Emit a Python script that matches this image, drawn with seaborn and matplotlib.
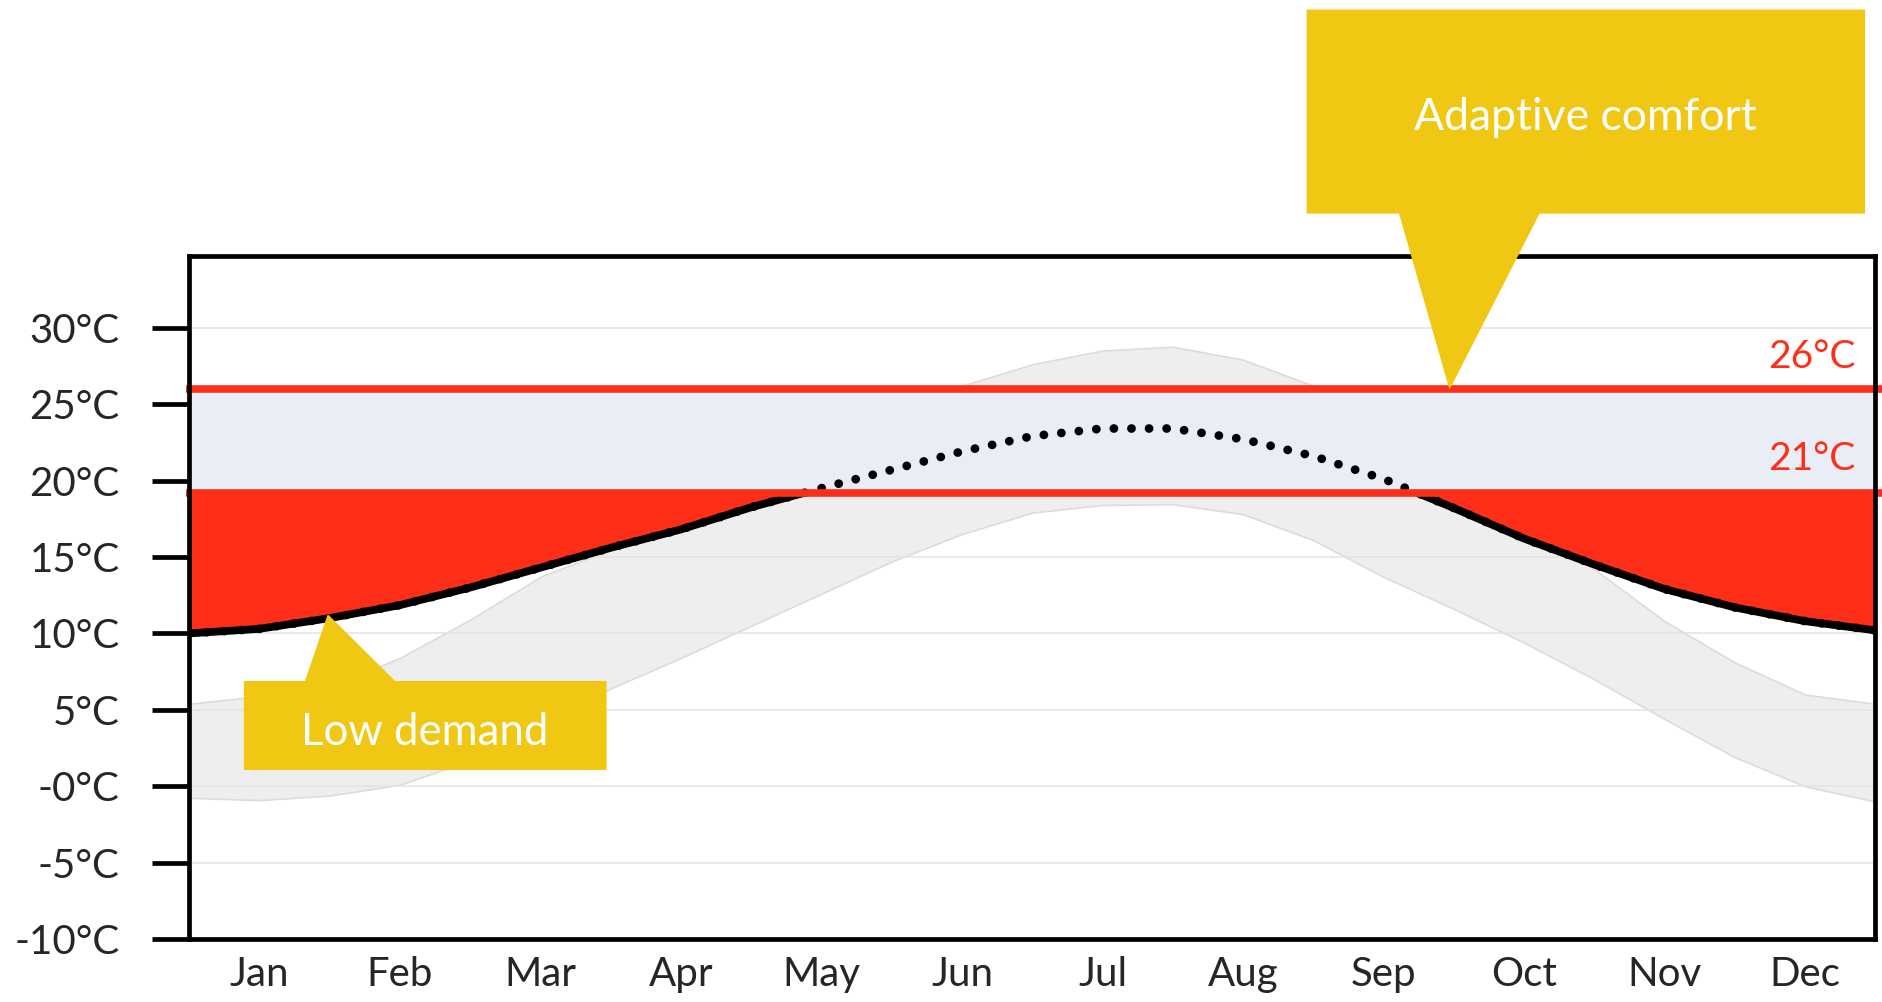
import numpy as np
import pandas as pd
import matplotlib
matplotlib.use("Agg")
import matplotlib.pyplot as plt
from matplotlib.patches import Polygon
import seaborn as sns

# half-month sample positions (0 = start of Jan, 12 = end of Dec)
month_pos = [0.0, 0.5, 1.0, 1.5, 2.0, 2.5, 3.0, 3.5, 4.0, 4.5, 5.0, 5.5, 6.0,
             6.5, 7.0, 7.5, 8.0, 8.5, 9.0, 9.5, 10.0, 10.5, 11.0, 11.5, 12.0]
mean_temp = [10.0, 10.3, 11.0, 11.85, 13.0, 14.3, 15.6, 16.8, 18.25, 19.5, 20.7, 21.9, 22.9,
             23.4, 23.4, 22.7, 21.6, 20.1, 18.2, 16.2, 14.5, 12.9, 11.7, 10.8, 10.2]
max_temp = [5.4, 5.9, 6.5, 8.4, 10.9, 13.7, 15.5, 17.5, 20.0, 22.5, 24.5, 26.2, 27.6,
            28.5, 28.75, 27.9, 26.2, 23.5, 20.5, 17.0, 14.2, 10.8, 8.1, 6.0, 5.4]
min_temp = [-0.75, -0.9, -0.6, 0.1, 1.7, 3.9, 6.4, 8.4, 10.5, 12.6, 14.7, 16.5, 17.9,
            18.4, 18.45, 17.8, 16.1, 13.7, 11.6, 9.4, 7.0, 4.4, 1.9, 0.0, -1.0]

months = ["Jan", "Feb", "Mar", "Apr", "May", "Jun",
          "Jul", "Aug", "Sep", "Oct", "Nov", "Dec"]
y_ticks = [-10, -5, 0, 5, 10, 15, 20, 25, 30]
y_labels = ["-10°C", "-5°C", "-0°C", "5°C", "10°C", "15°C", "20°C", "25°C", "30°C"]

comfort_high = 26.0
comfort_low = 19.2          # drawn here in the original, labelled 21°C
limit_labels = ["26°C", "21°C"]

df = pd.DataFrame({"month": month_pos, "mean": mean_temp,
                   "max": max_temp, "min": min_temp})

RED = "#FE2E19"
YELLOW = "#F0C814"
BAND = "#E9EDF5"

sns.set_style("white")
plt.rcParams["font.family"] = ["Lato", "DejaVu Sans"]

fig = plt.figure(figsize=(18.83, 10.02), dpi=100)
ax = fig.add_axes([0.1004, 0.0626, 0.8956, 0.6822])

# min/max range
ax.fill_between(df["month"], df["min"], df["max"], color="#EEEEEE",
                edgecolor="#DCDCDC", lw=1.2, zorder=1)

# heating demand below comfort
ax.fill_between(df["month"], df["mean"], comfort_low, where=df["mean"] < comfort_low,
                interpolate=True, color=RED, lw=0, zorder=2)
sns.lineplot(data=df, x="month", y="mean", color="black", lw=5.6, ax=ax, zorder=3)

# comfort band covers the mean line, dotted line redrawn on top
ax.fill_between([0, 12], comfort_low, comfort_high, color=BAND, lw=0, zorder=4)
ax.plot(df["month"], df["mean"], color="black", lw=6.3,
        linestyle=(0, (0.01, 2.0)), dash_capstyle="round", zorder=5)

for yv in (comfort_high, comfort_low):
    ax.plot([-0.02, 12.06], [yv, yv], color=RED, lw=5.5, solid_capstyle="butt",
            clip_on=False, zorder=6)

ax.text(11.86, 27.34, limit_labels[0], color=RED, fontsize=28, ha="right", va="baseline", zorder=7)
ax.text(11.86, 20.67, limit_labels[1], color=RED, fontsize=28, ha="right", va="baseline", zorder=7)

# callouts
adaptive = [(7.952, 50.8), (11.926, 50.8), (11.926, 37.45), (9.61, 37.45),
            (8.969, 25.93), (8.61, 37.45), (7.952, 37.45)]
low = [(0.39, 6.89), (0.825, 6.89), (0.987, 11.26), (1.466, 6.89),
       (2.971, 6.89), (2.971, 1.07), (0.39, 1.07)]
for pts in (adaptive, low):
    ax.add_patch(Polygon(pts, closed=True, facecolor=YELLOW, edgecolor="none",
                         clip_on=False, zorder=10))
ax.text(9.939, 42.9, "Adaptive comfort", color="white", fontsize=32,
        ha="center", va="baseline", zorder=11)
ax.text(1.679, 2.71, "Low demand", color="white", fontsize=31.5,
        ha="center", va="baseline", zorder=11)

ax.set_xlim(0, 12)
ax.set_ylim(-10, 34.7)
ax.set_xticks([i + 0.5 for i in range(12)])
ax.set_xticklabels(months)
ax.set_yticks(y_ticks)
ax.set_yticklabels(y_labels)
ax.set_xlabel("")
ax.set_ylabel("")
ax.tick_params(axis="x", bottom=False, length=0, pad=12, labelsize=29)
ax.tick_params(axis="y", left=True, length=27, width=3.4, pad=23, labelsize=29, color="black")
ax.yaxis.grid(True, color="#E3E3E3", lw=1.1)
ax.set_axisbelow("line")
for sp in ax.spines.values():
    sp.set_visible(True)
    sp.set_color("black")
    sp.set_linewidth(3.4)
    sp.set_zorder(8)

fig.savefig("out.png", dpi=100)
